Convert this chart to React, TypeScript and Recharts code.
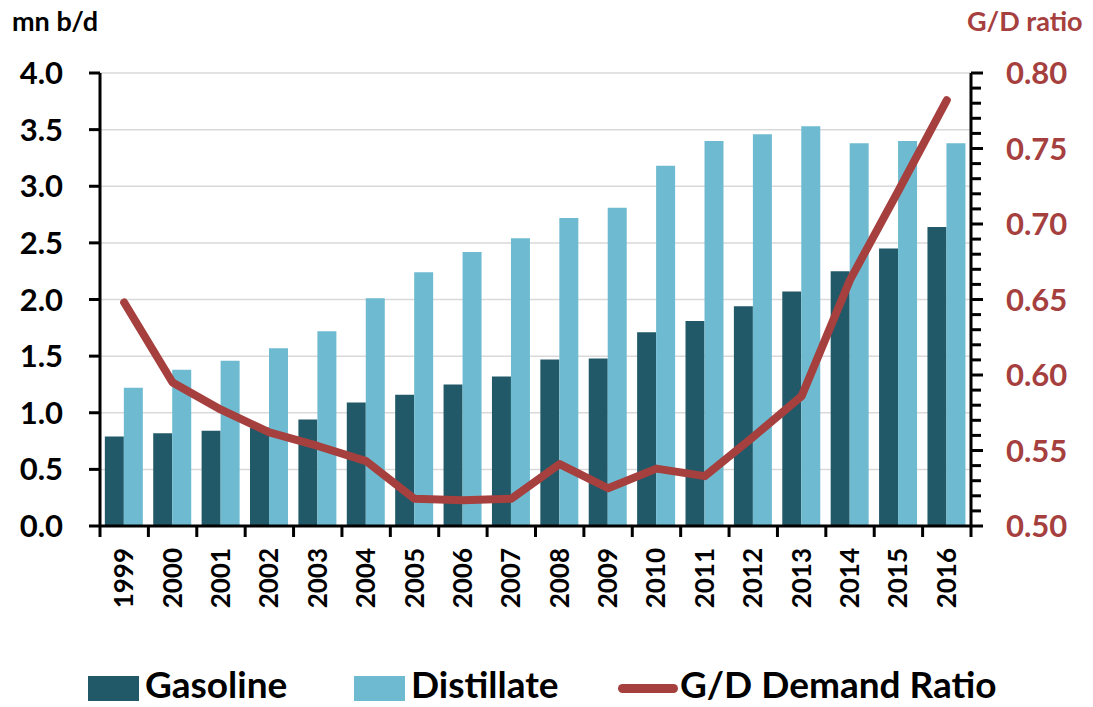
import React from "react";
import { ComposedChart, Bar, Line, XAxis, YAxis, CartesianGrid } from "recharts";

const years = ["1999","2000","2001","2002","2003","2004","2005","2006","2007","2008","2009","2010","2011","2012","2013","2014","2015","2016"];
const gasoline = [0.79,0.82,0.84,0.87,0.94,1.09,1.16,1.25,1.32,1.47,1.48,1.71,1.81,1.94,2.07,2.25,2.45,2.64];
const distillate = [1.22,1.38,1.46,1.57,1.72,2.01,2.24,2.42,2.54,2.72,2.81,3.18,3.40,3.46,3.53,3.38,3.40,3.38];
const gdRatio = [0.648,0.595,0.577,0.562,0.553,0.543,0.518,0.517,0.518,0.541,0.525,0.538,0.533,0.559,0.586,0.663,0.722,0.782];
const leftTicks = [0,0.5,1.0,1.5,2.0,2.5,3.0,3.5,4.0];
const rightTicks = [0.50,0.51,0.52,0.53,0.54,0.55,0.56,0.57,0.58,0.59,0.60,0.61,0.62,0.63,0.64,0.65,0.66,0.67,0.68,0.69,0.70,0.71,0.72,0.73,0.74,0.75,0.76,0.77,0.78,0.79,0.80];

const data = years.map((y, i) => ({ year: y, gasoline: gasoline[i], distillate: distillate[i], ratio: gdRatio[i] }));

const FONT = "Lato, 'Open Sans', sans-serif";
const RED = "#A5403E";
const DARK = "#215968";
const LIGHT = "#6EBBD1";

const W = 1093, H = 707;
const PLOT_L = 100, PLOT_R = 971, PLOT_T = 73, PLOT_B = 526;
const BAND = (PLOT_R - PLOT_L) / years.length;

const XTick = (props: any) => {
  const { x, payload, index } = props;
  const last = index === years.length - 1;
  return (
    <g>
      <line x1={x - BAND / 2} x2={x - BAND / 2} y1={PLOT_B} y2={PLOT_B + 11} stroke="#000" strokeWidth={3} />
      {last && <line x1={x + BAND / 2} x2={x + BAND / 2} y1={PLOT_B} y2={PLOT_B + 11} stroke="#000" strokeWidth={3} />}
      <text x={0} y={0} transform={`translate(${x + 9},${PLOT_B + 22}) rotate(-90)`} textAnchor="end" fontFamily={FONT} fontWeight={700} fontSize={26} fill="#000">
        {payload.value}
      </text>
    </g>
  );
};

const RightTick = (props: any) => {
  const { y, payload } = props;
  const v = payload.value;
  const major = Math.abs(Math.round(v * 100) % 5) === 0;
  return (
    <g>
      <line x1={PLOT_R} x2={PLOT_R + (major ? 12 : 10)} y1={y} y2={y} stroke="#000" strokeWidth={3} />
      {major && (
        <text x={PLOT_R + 35} y={y + 11} textAnchor="start" fontFamily={FONT} fontWeight={700} fontSize={31} fill={RED}>
          {v.toFixed(2)}
        </text>
      )}
    </g>
  );
};

const legendText: React.CSSProperties = { position: "absolute", top: 0, fontSize: 37, fontWeight: 700, lineHeight: "44px", whiteSpace: "nowrap", color: "#000" };

export default function App() {
  return (
    <div style={{ position: "absolute", left: 0, top: 0, width: W, height: H, background: "#fff", fontFamily: FONT }}>
      <ComposedChart
        width={W}
        height={H}
        data={data}
        margin={{ top: PLOT_T, right: 0, left: 0, bottom: H - PLOT_B - 120 }}
        barCategoryGap="10%"
        barGap={0}
      >
        <CartesianGrid yAxisId="left" vertical={false} stroke="#D9D9D9" strokeWidth={1.5} />
        <XAxis
          dataKey="year"
          height={120}
          interval={0}
          tickLine={false}
          axisLine={{ stroke: "#000", strokeWidth: 3 }}
          tick={<XTick />}
        />
        <YAxis
          yAxisId="left"
          orientation="left"
          width={PLOT_L}
          domain={[0, 4]}
          ticks={leftTicks}
          interval={0}
          tickFormatter={(v: number) => v.toFixed(1)}
          axisLine={{ stroke: "#000", strokeWidth: 3 }}
          tickLine={{ stroke: "#000", strokeWidth: 3 }}
          tickSize={11}
          tickMargin={26}
          tick={{ fontFamily: FONT, fontWeight: 700, fontSize: 31, fill: "#000" }}
        />
        <YAxis
          yAxisId="right"
          orientation="right"
          width={W - PLOT_R}
          domain={[0.5, 0.8]}
          ticks={rightTicks}
          interval={0}
          axisLine={{ stroke: "#000", strokeWidth: 3 }}
          tickLine={false}
          tick={<RightTick />}
        />
        <Bar yAxisId="left" dataKey="gasoline" fill={DARK} isAnimationActive={false} />
        <Bar yAxisId="left" dataKey="distillate" fill={LIGHT} isAnimationActive={false} />
        <Line
          yAxisId="right"
          dataKey="ratio"
          type="linear"
          stroke={RED}
          strokeWidth={8}
          strokeLinejoin="round"
          strokeLinecap="round"
          dot={false}
          activeDot={false}
          isAnimationActive={false}
        />
      </ComposedChart>

      <div style={{ position: "absolute", left: 12, top: 4, fontSize: 27, lineHeight: "34px", fontWeight: 700, color: "#000", whiteSpace: "nowrap" }}>mn b/d</div>
      <div style={{ position: "absolute", left: 967, top: 4, fontSize: 27, lineHeight: "34px", fontWeight: 700, color: RED, whiteSpace: "nowrap" }}>G/D ratio</div>

      <div style={{ position: "absolute", left: 0, top: 662, width: W, height: 44 }}>
        <div style={{ position: "absolute", left: 88, top: 14, width: 51, height: 25, background: DARK }} />
        <div style={{ ...legendText, left: 145 }}>Gasoline</div>
        <div style={{ position: "absolute", left: 354, top: 14, width: 51, height: 25, background: LIGHT }} />
        <div style={{ ...legendText, left: 411 }}>Distillate</div>
        <div style={{ position: "absolute", left: 618, top: 22, width: 60, height: 9, borderRadius: 5, background: RED }} />
        <div style={{ ...legendText, left: 680 }}>G/D Demand Ratio</div>
      </div>
    </div>
  );
}
